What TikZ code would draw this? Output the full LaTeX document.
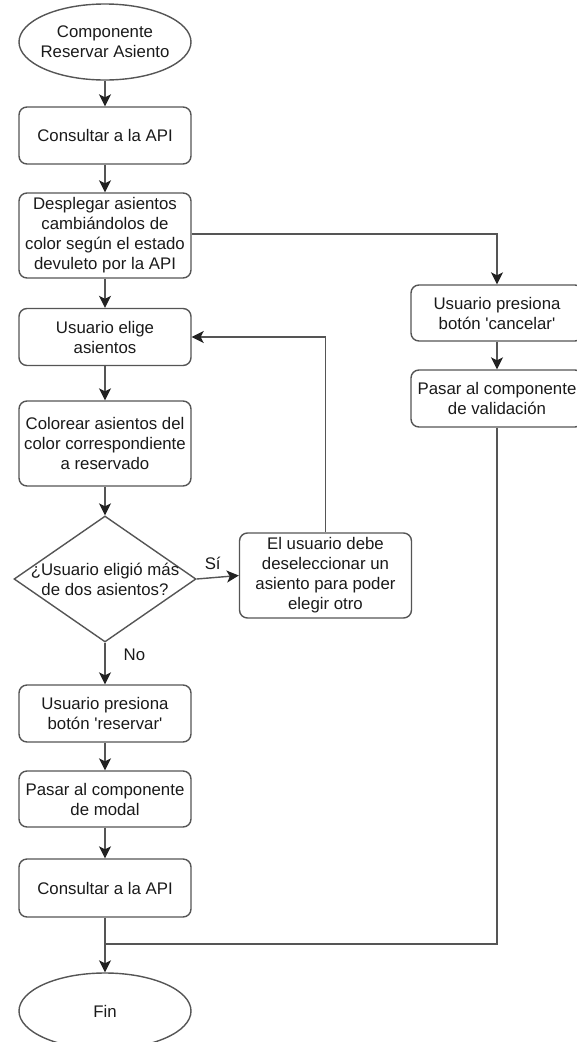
\documentclass[tikz,border=0pt]{standalone}
\usepackage{fontspec}
\setmainfont{Liberation Sans}
\usetikzlibrary{arrows.meta,shapes.geometric}

\definecolor{edge}{HTML}{555555}
\definecolor{tip}{HTML}{222222}
\definecolor{ink}{HTML}{1A1A1A}

\tikzset{
  base/.style={font=\fontsize{16.8}{20}\selectfont, text=ink, align=center},
  procbox/.style={base, draw=edge, line width=1.4pt, rounded corners=8pt,
    minimum width=172pt, inner sep=0pt},
  terminal/.style={draw=edge, line width=1.4pt, ellipse,
    minimum width=172pt, minimum height=76pt, inner sep=0pt},
  decision/.style={draw=edge, line width=1.4pt, diamond,
    minimum width=182pt, minimum height=126pt, inner sep=0pt},
  plain/.style={base, inner sep=0pt},
  flow/.style={draw=edge, line width=1.4pt,
    -{Stealth[length=12pt,width=12pt,inset=3pt,color=tip]}},
  link/.style={draw=edge, line width=1.4pt},
}

\begin{document}
\begin{tikzpicture}[x=1pt, y=-1pt]
\useasboundingbox (0,0) rectangle (576,1042);

% start and end terminals
\node[terminal] (start) at (105,42) {};
\node[plain] (starttext) at (start) {Componente\\Reservar Asiento};

% main column
\node[procbox, minimum height=57pt] (cons1) at (105,135.5) {Consultar a la API};
\node[procbox, minimum height=85pt] (desp) at (105,235.5)
  {Desplegar asientos\\cambiándolos de\\color según el estado\\devuleto por la API};
\node[procbox, minimum height=57pt] (elige) at (105,337) {Usuario elige\\asientos};
\node[procbox, minimum height=85pt] (color) at (105,443.5)
  {Colorear asientos del\\color correspondiente\\a reservado};
\node[decision] (dec) at (105,579) {};
\node[plain] (dectext) at (105,579) {¿Usuario eligió más\\de dos asientos?};
\node[procbox, minimum height=85pt] (debe) at (325.5,575.5)
  {El usuario debe\\deseleccionar un\\asiento para poder\\elegir otro};
\node[procbox, minimum height=57pt] (reserv) at (105,713.5)
  {Usuario presiona\\botón \textquotesingle reservar\textquotesingle};
\node[procbox, minimum height=56pt] (modal) at (105,799)
  {Pasar al componente\\de modal};
\node[procbox, minimum height=58pt] (cons2) at (105,888) {Consultar a la API};
\node[terminal] (fin) at (105,1011) {};
\node[plain] (fintext) at (fin) {Fin};

% cancel branch
\node[procbox, minimum height=56pt] (cancel) at (497,313)
  {Usuario presiona\\botón \textquotesingle cancelar\textquotesingle};
\node[procbox, minimum height=57pt] (valid) at (497,398.5)
  {Pasar al componente\\de validación};

\coordinate (join) at (105,944);

% connectors
\draw[flow] (start) -- (cons1);
\draw[flow] (cons1) -- (desp);
\draw[flow] (desp) -- (elige);
\draw[flow] (desp.east |- 0,234) -| (cancel.north);
\draw[flow] (elige) -- (color);
\draw[flow] (color) -- (dec.north);
\draw[flow] (dec.east) -- (debe.west)
  node[plain, pos=0.38, above=7pt] (si) {Sí};
\draw[flow] (debe.north) |- (elige.east);
\draw[flow] (dec.south) -- (reserv.north)
  node[plain, pos=0.3, right=18pt] (no) {No};
\draw[flow] (cancel) -- (valid);
\draw[flow] (reserv) -- (modal);
\draw[flow] (modal) -- (cons2);
\draw[flow] (cons2) -- (fin);
\draw[link] (valid.south) |- (join);
\end{tikzpicture}
\end{document}
